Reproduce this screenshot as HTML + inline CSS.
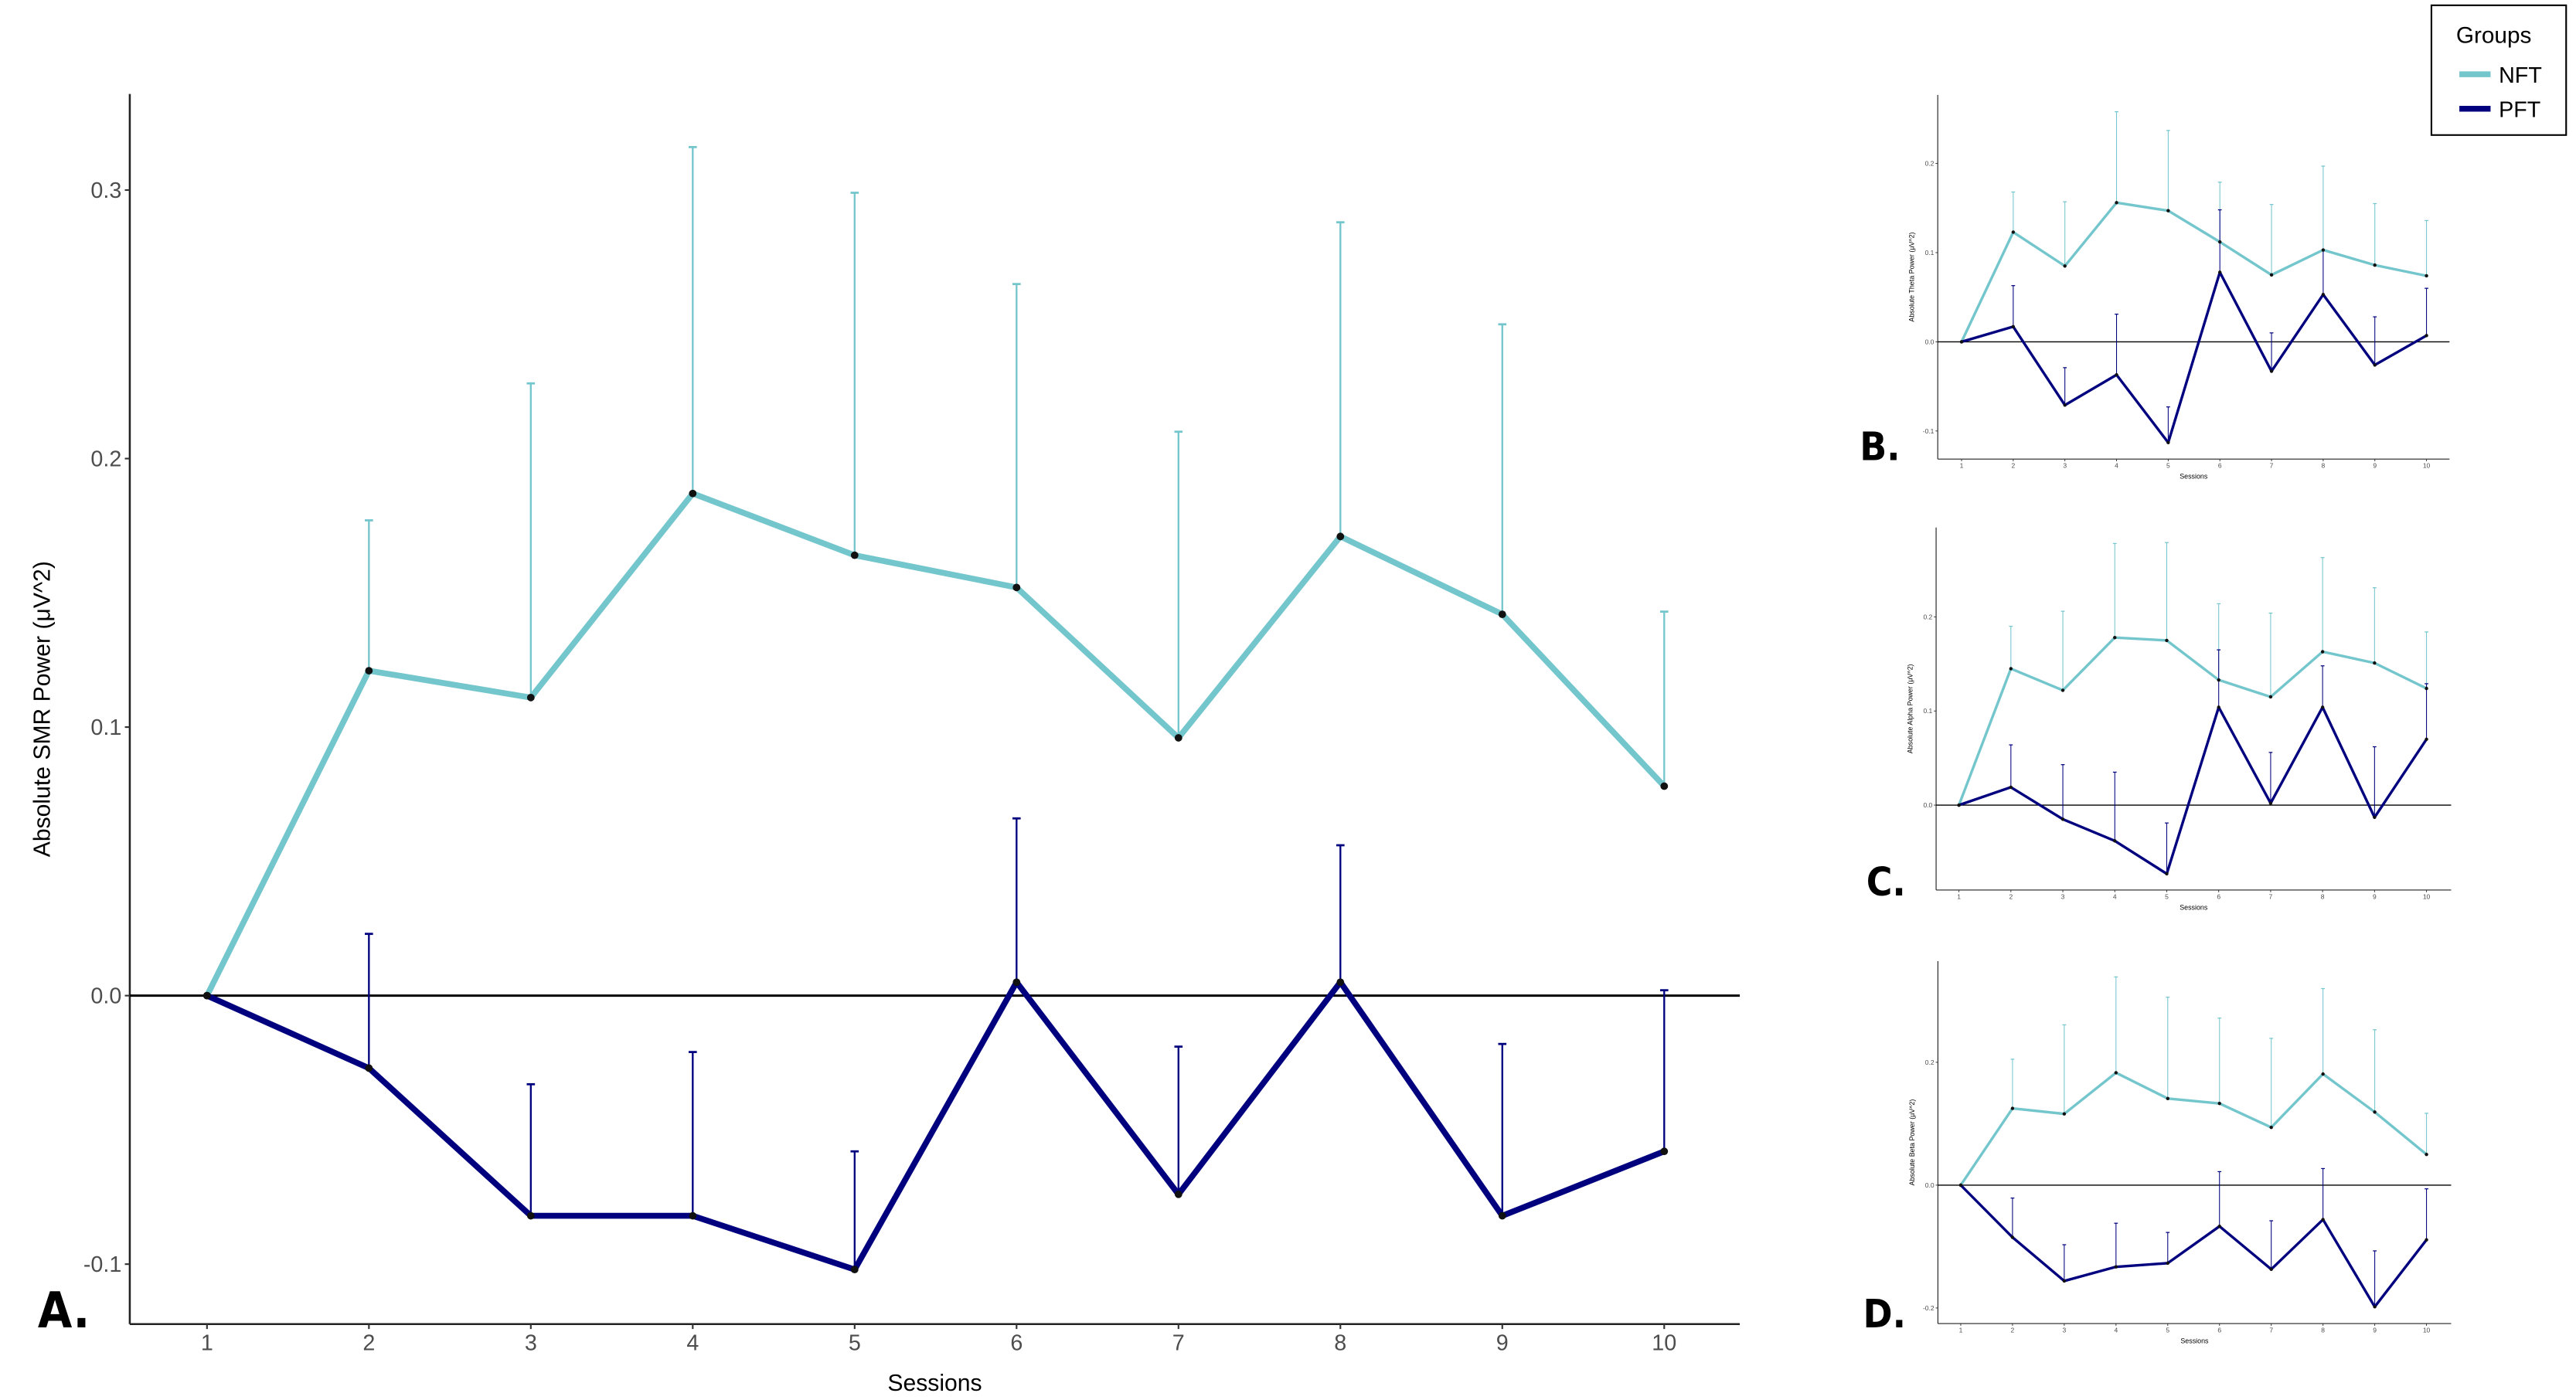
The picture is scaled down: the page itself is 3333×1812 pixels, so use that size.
<!DOCTYPE html>
<html><head><meta charset="utf-8"><style>
html,body{margin:0;padding:0;background:#fff;}
svg{display:block;font-family:"Liberation Sans",sans-serif;}
</style></head><body>
<svg id="fig" width="3333" height="1812" viewBox="0 0 1568 852" xmlns="http://www.w3.org/2000/svg">
<g id="root"></g>
<g>
<rect x="1480" y="3" width="82" height="79" fill="#fff" stroke="#000" stroke-width="1"/>
<text x="1495" y="26" font-size="14" fill="#000">Groups</text>
<line x1="1497" y1="45" x2="1516" y2="45" stroke="#74c6cd" stroke-width="3.5"/>
<text x="1521" y="50" font-size="13.5">NFT</text>
<line x1="1497" y1="66" x2="1516" y2="66" stroke="#00007f" stroke-width="3.5"/>
<text x="1521" y="71" font-size="13.5">PFT</text>
</g>
</svg>
<script>
const sessions = [1,2,3,4,5,6,7,8,9,10];
// Panel A: SMR
const smrNFT = [0,0.121,0.111,0.187,0.164,0.152,0.096,0.171,0.142,0.078];
const smrNFTUpper = [null,0.177,0.228,0.316,0.299,0.265,0.210,0.288,0.250,0.143];
const smrPFT = [0,-0.027,-0.082,-0.082,-0.102,0.005,-0.074,0.005,-0.082,-0.058];
const smrPFTUpper = [null,0.023,-0.033,-0.021,-0.058,0.066,-0.019,0.056,-0.018,0.002];
const smrTicks = [0.3,0.2,0.1,0.0,-0.1];
// Panel B: Theta
const thetaNFT = [0,0.123,0.085,0.156,0.147,0.112,0.075,0.103,0.086,0.074];
const thetaNFTUpper = [null,0.168,0.157,0.258,0.237,0.179,0.154,0.197,0.155,0.136];
const thetaPFT = [0,0.017,-0.071,-0.037,-0.113,0.078,-0.033,0.053,-0.026,0.007];
const thetaPFTUpper = [null,0.063,-0.029,0.031,-0.073,0.148,0.010,0.102,0.028,0.060];
const thetaTicks = [0.2,0.1,0.0,-0.1];
// Panel C: Alpha
const alphaNFT = [0,0.145,0.122,0.178,0.175,0.133,0.115,0.163,0.151,0.124];
const alphaNFTUpper = [null,0.190,0.206,0.278,0.279,0.214,0.204,0.263,0.231,0.184];
const alphaPFT = [0,0.019,-0.015,-0.038,-0.073,0.104,0.002,0.104,-0.013,0.070];
const alphaPFTUpper = [null,0.064,0.043,0.035,-0.019,0.165,0.056,0.148,0.062,0.129];
const alphaTicks = [0.2,0.1,0.0];
// Panel D: Beta
const betaNFT = [0,0.125,0.116,0.183,0.141,0.133,0.094,0.181,0.119,0.050];
const betaNFTUpper = [null,0.205,0.261,0.339,0.306,0.272,0.239,0.320,0.253,0.117];
const betaPFT = [0,-0.085,-0.156,-0.133,-0.127,-0.067,-0.137,-0.056,-0.198,-0.089];
const betaPFTUpper = [null,-0.021,-0.097,-0.062,-0.077,0.022,-0.058,0.027,-0.107,-0.006];
const betaTicks = [0.2,0.0,-0.2];

const NS="http://www.w3.org/2000/svg";
const root=document.getElementById('root');
function mk(tag,attrs,parent,text){const e=document.createElementNS(NS,tag);for(const k in attrs)e.setAttribute(k,attrs[k]);if(text!==undefined)e.textContent=text;(parent||root).appendChild(e);return e;}

function panel(cfg){
  const g=mk('g',{});
  
  
  const xs=s=>cfg.x1+(s-1)*(cfg.x10-cfg.x1)/9;
  const ys=v=>cfg.y0-v*cfg.per;
  const sc=cfg.scale;
  const ya=mk('line',{x1:cfg.left,y1:cfg.top,x2:cfg.left,y2:cfg.bottom,stroke:'#222','stroke-width':1.2*sc},g);
  
  
  const xa=mk('line',{x1:cfg.left,y1:cfg.bottom,x2:cfg.right,y2:cfg.bottom,stroke:'#222','stroke-width':1.2*sc},g);
  
  
  const zl=mk('line',{x1:cfg.left,y1:ys(0),x2:cfg.right,y2:ys(0),stroke:'#000','stroke-width':1.4*sc},g);
  
  
  cfg.ticks.forEach(t=>{
    mk('line',{x1:cfg.left-3*sc,y1:ys(t),x2:cfg.left,y2:ys(t),stroke:'#333','stroke-width':sc},g);
    const tl=mk('text',{x:cfg.left-5*sc,y:ys(t)+cfg.fs*0.35,'font-size':cfg.fs,fill:'#4d4d4d','text-anchor':'end'},g,t.toFixed(1));
    
    
  });
  sessions.forEach(s=>{
    mk('line',{x1:xs(s),y1:cfg.bottom,x2:xs(s),y2:cfg.bottom+3*sc,stroke:'#333','stroke-width':sc},g);
    const tl=mk('text',{x:xs(s),y:cfg.bottom+5*sc+cfg.fs*0.8,'font-size':cfg.fs,fill:'#4d4d4d','text-anchor':'middle'},g,String(s));
    
    
  });
  const xt=mk('text',{x:(cfg.left+cfg.right)/2,y:cfg.bottom+cfg.fs*3.0,'font-size':cfg.fs*1.05,fill:'#000','text-anchor':'middle'},g,'Sessions');
  
  
  const cy=(cfg.top+cfg.bottom)/2, tx=cfg.left-cfg.fs*3.6;
  const yt=mk('text',{x:tx,y:cy,'font-size':cfg.fs*1.05,fill:'#000','text-anchor':'middle',transform:`rotate(-90 ${tx} ${cy})`},g,cfg.ytitle);
  
  
  const series=[{m:cfg.nft,u:cfg.nftU,c:'#74c6cd',n:'nft'},{m:cfg.pft,u:cfg.pftU,c:'#00007f',n:'pft'}];
  series.forEach(se=>{
    se.u.forEach((u,i)=>{
      if(u===null)return;
      const x=xs(sessions[i]);
      const eb=mk('g',{},g);
      
      
      mk('line',{x1:x,y1:ys(se.m[i]),x2:x,y2:ys(u),stroke:se.c,'stroke-width':1.1*sc},eb);
      mk('line',{x1:x-2.5*sc,y1:ys(u),x2:x+2.5*sc,y2:ys(u),stroke:se.c,'stroke-width':1.3*sc},eb);
    });
  });
  series.forEach(se=>{
    const pts=se.m.map((v,i)=>xs(sessions[i])+','+ys(v)).join(' ');
    const pl=mk('polyline',{points:pts,fill:'none',stroke:se.c,'stroke-width':cfg.lw,'stroke-linejoin':'round'},g);
    
    
  });
  series.forEach(se=>{
    se.m.forEach((v,i)=>{
      const c=mk('circle',{cx:xs(sessions[i]),cy:ys(v),r:2.3*sc,fill:'#111'},g);
      
      
    });
  });
  const lab=mk('text',{x:cfg.labX,y:cfg.labY,'font-size':cfg.labFs,'font-weight':'bold',fill:'#000','font-family':'"DejaVu Sans Condensed","Liberation Sans",sans-serif'},g,cfg.label);
  
  
}

panel({name:'panel-a-smr',left:79,right:1059,top:57,bottom:806,x1:126,x10:1013,y0:606,per:1635,
  ticks:smrTicks,fs:13.5,scale:1,lw:3.6,ytitle:'Absolute SMR Power (μV^2)',
  nft:smrNFT,nftU:smrNFTUpper,pft:smrPFT,pftU:smrPFTUpper,label:'A.',labX:23,labY:808,labFs:30});
panel({name:'panel-b-theta',left:1179.5,right:1491,top:57.6,bottom:279.3,x1:1194,x10:1477,y0:207.9,per:543,
  ticks:thetaTicks,fs:4,scale:0.45,lw:1.6,ytitle:'Absolute Theta Power (μV^2)',
  nft:thetaNFT,nftU:thetaNFTUpper,pft:thetaPFT,pftU:thetaPFTUpper,label:'B.',labX:1132,labY:280,labFs:24});
panel({name:'panel-c-alpha',left:1178.5,right:1492,top:321,bottom:541.7,x1:1192.4,x10:1477,y0:490,per:573,
  ticks:alphaTicks,fs:4,scale:0.45,lw:1.6,ytitle:'Absolute Alpha Power (μV^2)',
  nft:alphaNFT,nftU:alphaNFTUpper,pft:alphaPFT,pftU:alphaPFTUpper,label:'C.',labX:1136,labY:545,labFs:24});
panel({name:'panel-d-beta',left:1179.6,right:1492,top:585,bottom:805.7,x1:1193.5,x10:1477,y0:721.4,per:374,
  ticks:betaTicks,fs:4,scale:0.45,lw:1.6,ytitle:'Absolute Beta Power (μV^2)',
  nft:betaNFT,nftU:betaNFTUpper,pft:betaPFT,pftU:betaPFTUpper,label:'D.',labX:1134,labY:808,labFs:24});
</script>
</body></html>
